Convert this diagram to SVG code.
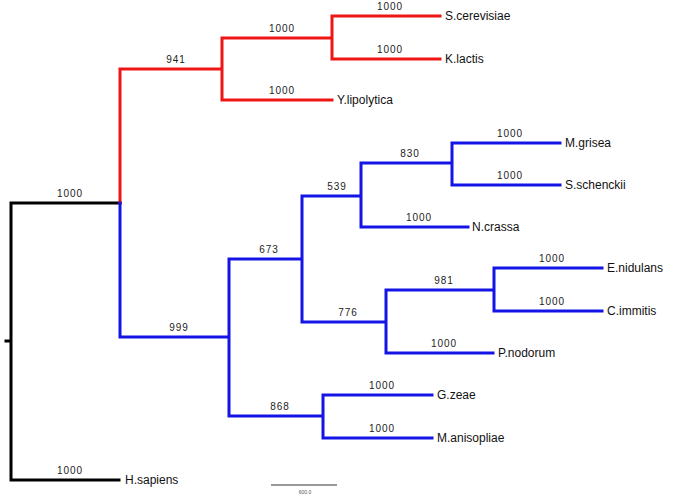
<svg xmlns="http://www.w3.org/2000/svg" width="685" height="496" viewBox="0 0 685 496">
<style>
.br{fill:none;stroke-width:3;stroke-linecap:square;stroke-linejoin:miter}
.k{stroke:#000}
.r{stroke:#ee1515}
.b{stroke:#1414e6}
.bs{font-family:"Liberation Sans",Arial,sans-serif;font-size:10px;letter-spacing:1px;fill:#222;text-anchor:middle}
.lf{font-family:"Liberation Sans",Arial,sans-serif;font-size:12px;fill:#111}
</style>
<rect width="685" height="496" fill="#fff"/>
<g id="connectors">
<path class="br k" d="M6,341 H11 M11,203 V480 M11,203 H120 M11,480 H119"/>
<path class="br r" d="M120,203 V69 H222 M222,38 V100 M222,38 H332 M332,16 V59 M332,16 H440 M332,59 H440 M222,100 H332"/>
<path class="br b" d="M120,203 V337 H229 M229,259 V416 M229,259 H302 M302,196 V322 M302,196 H361 M361,163 V227 M361,163 H452 M452,143 V185 M452,143 H560 M452,185 H560 M361,227 H468 M302,322 H386 M386,290 V353 M386,290 H494 M494,268 V311 M494,268 H602 M494,311 H602 M386,353 H493 M229,416 H323 M323,395 V438 M323,395 H432 M323,438 H432"/>
<line x1="271" y1="485" x2="337" y2="485" stroke="#777" stroke-width="1.5"/>
</g>
<g id="root"><text class="bs" x="70" y="197">1000</text></g>
<g id="H.sapiens"><text class="bs" x="70" y="474">1000</text><text class="lf" x="125" y="484">H.sapiens</text></g>
<g id="n941"><text class="bs" x="176" y="63">941</text></g>
<g id="n1000a"><text class="bs" x="282" y="32">1000</text></g>
<g id="S.cerevisiae"><text class="bs" x="390" y="10">1000</text><text class="lf" x="445" y="20">S.cerevisiae</text></g>
<g id="K.lactis"><text class="bs" x="390" y="53">1000</text><text class="lf" x="445" y="63">K.lactis</text></g>
<g id="Y.lipolytica"><text class="bs" x="282" y="94">1000</text><text class="lf" x="337" y="104">Y.lipolytica</text></g>
<g id="n999"><text class="bs" x="179" y="331">999</text></g>
<g id="n673"><text class="bs" x="269" y="253">673</text></g>
<g id="n539"><text class="bs" x="337" y="190">539</text></g>
<g id="n830"><text class="bs" x="410" y="157">830</text></g>
<g id="M.grisea"><text class="bs" x="510" y="137">1000</text><text class="lf" x="565" y="147">M.grisea</text></g>
<g id="S.schenckii"><text class="bs" x="510" y="179">1000</text><text class="lf" x="565" y="189">S.schenckii</text></g>
<g id="N.crassa"><text class="bs" x="419" y="221">1000</text><text class="lf" x="472" y="231">N.crassa</text></g>
<g id="n776"><text class="bs" x="348" y="316">776</text></g>
<g id="n981"><text class="bs" x="444" y="284">981</text></g>
<g id="E.nidulans"><text class="bs" x="552" y="262">1000</text><text class="lf" x="607" y="272">E.nidulans</text></g>
<g id="C.immitis"><text class="bs" x="552" y="305">1000</text><text class="lf" x="607" y="315">C.immitis</text></g>
<g id="P.nodorum"><text class="bs" x="444" y="347">1000</text><text class="lf" x="498" y="357">P.nodorum</text></g>
<g id="n868"><text class="bs" x="280" y="410">868</text></g>
<g id="G.zeae"><text class="bs" x="382" y="389">1000</text><text class="lf" x="437" y="399">G.zeae</text></g>
<g id="M.anisopliae"><text class="bs" x="382" y="432">1000</text><text class="lf" x="437" y="442">M.anisopliae</text></g>
<g id="scale"><text x="305" y="494" font-family="'Liberation Sans',Arial,sans-serif" font-size="5" fill="#555" text-anchor="middle">600.0</text></g>
</svg>
